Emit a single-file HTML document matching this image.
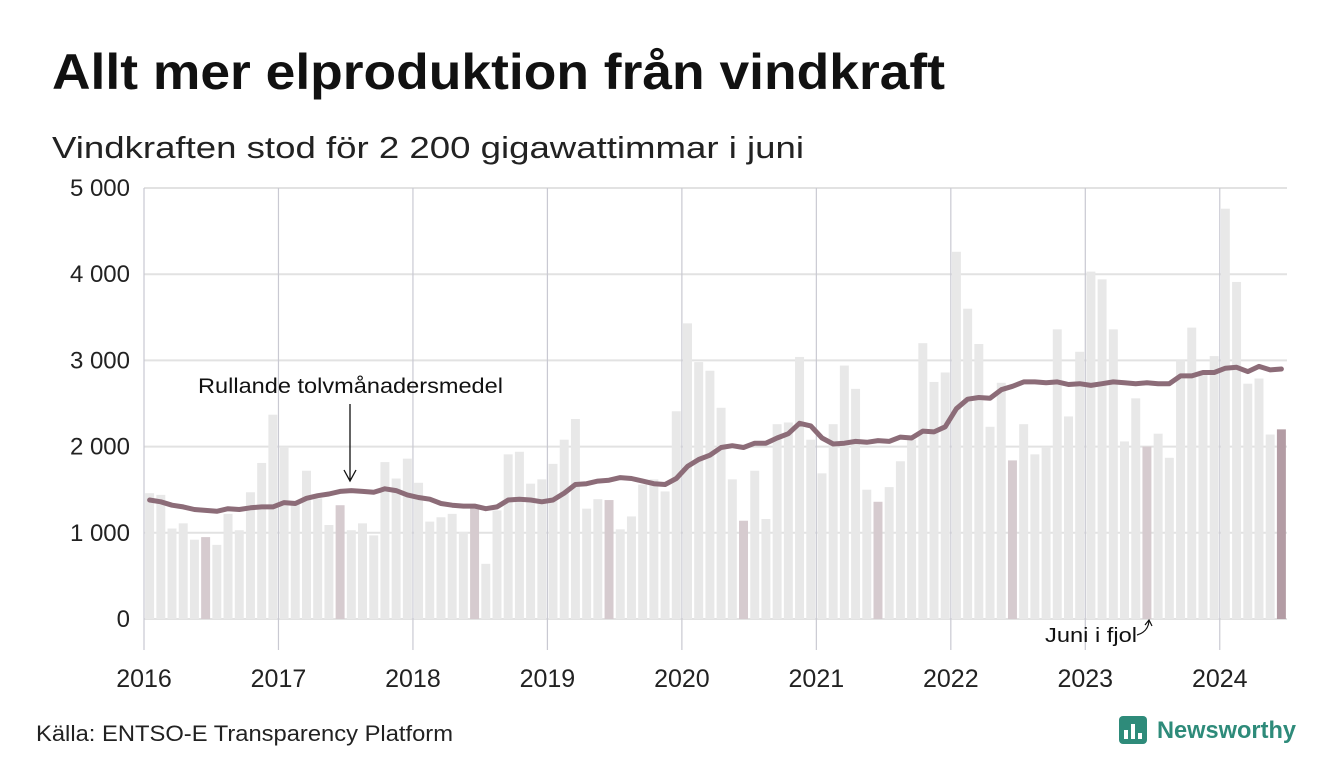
<!DOCTYPE html>
<html><head><meta charset="utf-8"><style>body{margin:0;background:#fff}svg{display:block}text{font-family:"Liberation Sans",sans-serif}</style></head>
<body>
<svg id="chart" width="1340" height="780" viewBox="0 0 1340 780">
<text x="52" y="89" font-size="50" font-weight="bold" fill="#111" textLength="893" lengthAdjust="spacingAndGlyphs">Allt mer elproduktion från vindkraft</text>
<text x="52" y="158" font-size="31" fill="#222" textLength="752" lengthAdjust="spacingAndGlyphs">Vindkraften stod för 2 200 gigawattimmar i juni</text>
<g id="grid"></g>
<g id="bars"></g>
<g id="line"></g>
<g id="axes"></g>
<text x="198" y="393" font-size="21" fill="#111" textLength="305" lengthAdjust="spacingAndGlyphs">Rullande tolvmånadersmedel</text>
<path d="M350 404 L350 480 M344 470 L350 481 L356 470" stroke="#111" stroke-width="1.3" fill="none"/>
<text x="1045" y="642" font-size="20" fill="#111" textLength="92" lengthAdjust="spacingAndGlyphs">Juni i fjol</text>
<path d="M1137 635 Q1148 632 1149 621 M1145 625 L1149 620 L1152 626" stroke="#111" stroke-width="1.2" fill="none"/>
<text x="36" y="741" font-size="22" fill="#222" textLength="417" lengthAdjust="spacingAndGlyphs">Källa: ENTSO-E Transparency Platform</text>
<g>
<rect x="1119" y="716" width="28" height="28" rx="4" fill="#2e8b7a"/>
<rect x="1124" y="730" width="4" height="9" fill="#fff"/><rect x="1131" y="724" width="4" height="15" fill="#fff"/><rect x="1138" y="733" width="4" height="6" fill="#fff"/>
<text x="1157" y="738" font-size="24" font-weight="bold" fill="#2e8b7a" textLength="139" lengthAdjust="spacingAndGlyphs">Newsworthy</text>
</g>
</svg>
<script>
const yearLabels = ["2016","2017","2018","2019","2020","2021","2022","2023","2024"];
const yTicks = [0,1000,2000,3000,4000,5000];
const yTickLabels = ["0","1 000","2 000","3 000","4 000","5 000"];
const production = [
1460,1440,1050,1110,920,950,860,1220,1030,1470,1810,2370,
2000,1370,1720,1400,1090,1320,1030,1110,970,1820,1630,1860,
1580,1130,1180,1220,1010,1290,640,1260,1910,1940,1570,1620,
1800,2080,2320,1280,1390,1380,1040,1190,1560,1620,1480,2410,
3430,2980,2880,2450,1620,1140,1720,1160,2260,2280,3040,2080,
1690,2260,2940,2670,1500,1360,1530,1830,2080,3200,2750,2860,
4260,3600,3190,2230,2740,1840,2260,1910,2000,3360,2350,3100,
4030,3940,3360,2060,2560,2000,2150,1870,3000,3380,2880,3050,
4760,3910,2730,2790,2140,2200];
const rollingAvg = [
1380,1360,1320,1300,1270,1260,1250,1280,1270,1290,1300,1300,
1350,1340,1400,1430,1450,1480,1490,1480,1470,1510,1490,1440,
1410,1390,1340,1320,1310,1310,1280,1300,1380,1390,1380,1360,
1380,1460,1560,1570,1600,1610,1640,1630,1600,1570,1560,1630,
1770,1850,1900,1990,2010,1990,2040,2040,2100,2150,2270,2240,
2100,2030,2040,2060,2050,2070,2060,2110,2100,2180,2170,2230,
2440,2550,2570,2560,2660,2700,2750,2750,2740,2750,2720,2730,
2710,2730,2750,2740,2730,2740,2730,2730,2820,2820,2860,2860,
2910,2920,2870,2930,2890,2900];
const NS="http://www.w3.org/2000/svg";
const x0=144,x1=1287,y0=619,y1=188,nMonths=102;
const xScale=m=>x0+m*(x1-x0)/nMonths;
const yScale=v=>y0-v*(y0-y1)/5000;
function mk(tag,attrs,parent){const e=document.createElementNS(NS,tag);for(const k in attrs)e.setAttribute(k,attrs[k]);parent.appendChild(e);return e;}
const grid=document.getElementById('grid'),bars=document.getElementById('bars'),line=document.getElementById('line'),axes=document.getElementById('axes');
yTicks.forEach((t,i)=>{
  const g=mk('line',{x1:x0,x2:x1,y1:yScale(t),y2:yScale(t),stroke:'#e2e2e2','stroke-width':2},grid);
  
  
  const tx=mk('text',{x:130,y:yScale(t)+8,'font-size':24,'text-anchor':'end',fill:'#222'},axes);
  tx.textContent=yTickLabels[i];
  
  
});
yearLabels.forEach((y,i)=>{
  const xv=xScale(i*12);
  const g=mk('line',{x1:xv,x2:xv,y1:y1,y2:650,stroke:'#c9c9d2','stroke-width':1.2},grid);
  
  
  const tx=mk('text',{x:xv,y:687,'font-size':25,'text-anchor':'middle',fill:'#222'},axes);
  tx.textContent=y;
  
  
});
const bw=(x1-x0)/nMonths*0.8;
production.forEach((v,i)=>{
  const cx=xScale(i+0.5);
  let fill='#e8e8e8';
  if(i%12===5) fill='#d6cbcf';
  if(i===production.length-1) fill='#b39ca4';
  const r=mk('rect',{x:cx-bw/2,y:yScale(v),width:bw,height:y0-yScale(v),fill:fill},bars);
  
  
});
const pts=rollingAvg.map((v,i)=>xScale(i+0.5).toFixed(1)+','+yScale(v).toFixed(1)).join(' ');
const pl=mk('polyline',{points:pts,fill:'none',stroke:'#8c6c78','stroke-width':5,'stroke-linejoin':'round','stroke-linecap':'round'},line);


</script>
</body></html>
